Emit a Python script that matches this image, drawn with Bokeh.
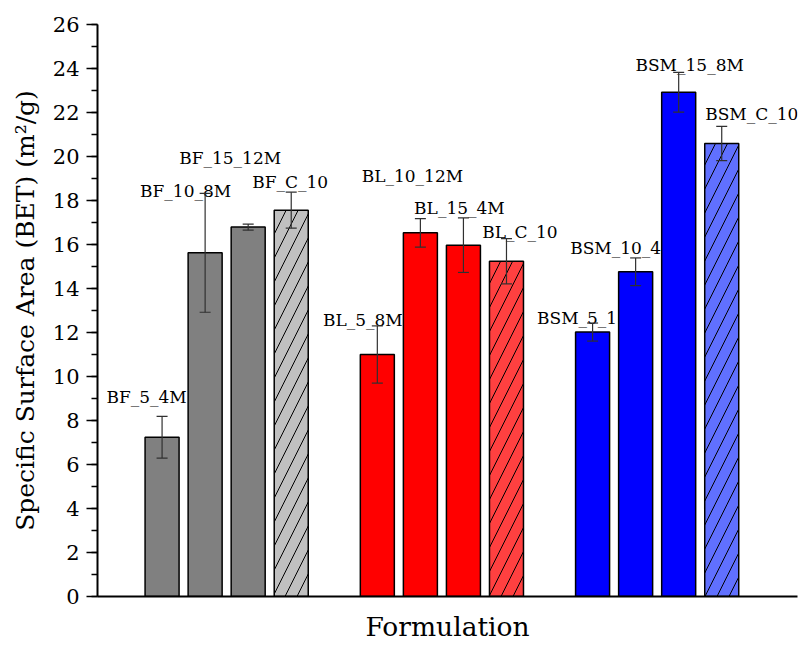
from bokeh.plotting import figure
from bokeh.models import (ColumnDataSource, Range1d, LinearAxis,
                          FixedTicker, SingleIntervalTicker, Whisker, TeeHead)
from bokeh.core.properties import value
from bokeh.embed import file_html
from bokeh.resources import INLINE

# ---------------- data ----------------
groups = ["BF", "BL", "BSM"]
sample_group = ["BF", "BF", "BF", "BF",
                "BL", "BL", "BL", "BL",
                "BSM", "BSM", "BSM", "BSM"]
samples = ["BF_5_4M", "BF_10_8M", "BF_15_12M", "BF_C_10",
           "BL_5_8M", "BL_10_12M", "BL_15_4M", "BL_C_10",
           "BSM_5_12M", "BSM_10_4M", "BSM_15_8M", "BSM_C_10"]
bet_values = [7.24, 15.62, 16.79, 17.56,
              11.00, 16.53, 15.97, 15.24,
              12.02, 14.76, 22.92, 20.59]
bet_errors = [0.95, 2.70, 0.14, 0.82,
              1.30, 0.65, 1.24, 1.03,
              0.41, 0.63, 0.90, 0.78]
label_texts = ["BF_5_4M", "BF_10_8M", "BF_15_12M", "BF_C_10",
               "BL_5_8M", "BL_10_12M", "BL_15_4M", "BL_C_10",
               "BSM_5_1", "BSM_10_4", "BSM_15_8M", "BSM_C_10"]

# ---------------- layout / style ----------------
label_y = [9.09, 18.42, 19.91, 18.83,
           12.55, 19.10, 17.64, 16.55,
           12.64, 15.82, 24.18, 21.95]
label_dx = [-15.5, -19.5, -18, -1,
            -14.5, -8, -4, 13.5,
            -15.5, -20, 11, 30]
group_colors = {"BF": "#808080", "BL": "#FF0000", "BSM": "#0000FF"}
control_colors = {"BF": "#C0C0C0", "BL": "#FF4040", "BSM": "#6070FF"}
FONT = "DejaVu Serif"

# one empty slot between groups
slot = [i + groups.index(g) for i, g in enumerate(sample_group)]
is_control = ["_C_" in s for s in samples]
fills = [control_colors[g] if c else group_colors[g]
         for g, c in zip(sample_group, is_control)]
hatches = ["/" if c else " " for c in is_control]

src = ColumnDataSource(dict(
    x=slot, top=bet_values,
    upper=[v + e for v, e in zip(bet_values, bet_errors)],
    lower=[v - e for v, e in zip(bet_values, bet_errors)],
    fill=fills, hatch=hatches, name=samples))
lsrc = ColumnDataSource(dict(x=slot, y=label_y, text=label_texts, dx=label_dx))

p = figure(x_range=Range1d(-1.5, 14.76), y_range=Range1d(0, 26), x_axis_type=None,
           width=798, height=646, output_backend="svg", toolbar_location=None,
           min_border_left=97, min_border_right=1, min_border_top=24,
           min_border_bottom=50)

# labels first so that bars drawn later may cover them
p.text(x="x", y="y", text="text", x_offset="dx", source=lsrc,
       text_font=value(FONT), text_font_size="17px", text_align="center",
       text_baseline="alphabetic", text_color="black")

p.vbar(x="x", top="top", width=0.79, source=src, fill_color="fill",
       line_color="black", line_width=1.5,
       hatch_pattern="hatch", hatch_color="black", hatch_weight=1, hatch_scale=24)

w = Whisker(source=src, base="x", upper="upper", lower="lower", level="annotation",
            line_color="#303030", line_width=1.2,
            upper_head=TeeHead(size=11, line_color="#303030", line_width=1.2),
            lower_head=TeeHead(size=11, line_color="#303030", line_width=1.2))
p.add_layout(w)

# axes
p.xgrid.visible = False
p.ygrid.visible = False
p.outline_line_color = None

ya = p.yaxis[0]
ya.ticker = SingleIntervalTicker(interval=2, num_minor_ticks=2)
ya.axis_line_width = 2
ya.major_tick_out = 11
ya.major_tick_in = 0
ya.minor_tick_out = 6
ya.minor_tick_in = 0
ya.major_tick_line_width = 1.5
ya.minor_tick_line_width = 1.5
ya.major_label_standoff = 7
ya.major_label_text_font = FONT
ya.major_label_text_font_size = "21px"
ya.major_label_text_color = "black"
ya.axis_label = "Specific Surface Area (BET) (m²/g)"
ya.axis_label_text_font = FONT
ya.axis_label_text_font_size = "25px"
ya.axis_label_text_font_style = "normal"
ya.axis_label_text_color = "black"
ya.axis_label_standoff = 10

xa = LinearAxis(ticker=FixedTicker(ticks=[]))
xa.axis_line_width = 2
xa.major_tick_out = 0
xa.major_tick_in = 0
xa.minor_tick_out = 0
xa.minor_tick_in = 0
xa.major_label_standoff = 0
xa.axis_label = "Formulation"
xa.axis_label_text_font = FONT
xa.axis_label_text_font_size = "26.5px"
xa.axis_label_text_font_style = "normal"
xa.axis_label_text_color = "black"
xa.axis_label_standoff = 14
p.add_layout(xa, "below")

open("out.html", "w").write(file_html(p, INLINE))
